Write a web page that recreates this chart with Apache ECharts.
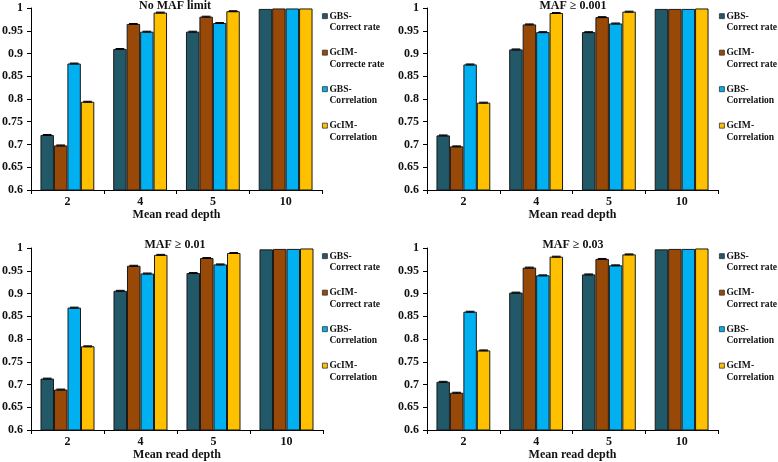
<!DOCTYPE html>
<html>
<head>
<meta charset="utf-8">
<script src="https://cdn.jsdelivr.net/npm/echarts@6/dist/echarts.min.js"></script>
<style>html,body{margin:0;padding:0;background:#fff;}#c{width:778px;height:462px;}</style>
</head>
<body>
<div id="c"></div>
<script>
const categories = ['2', '4', '5', '10'];
const panelTitles = ['No MAF limit', 'MAF \u2265 0.001', 'MAF \u2265 0.01', 'MAF \u2265 0.03'];
const namesFirst = ['GBS-\nCorrect rate', 'GcIM-\nCorrecte rate', 'GBS-\nCorrelation', 'GcIM-\nCorrelation'];
const namesOther = ['GBS-\nCorrect rate', 'GcIM-\nCorrect rate', 'GBS-\nCorrelation', 'GcIM-\nCorrelation'];
const yTicks = { min: 0.6, max: 1, interval: 0.05 };

// values per panel: [GBS-Correct rate, GcIM-Correct rate, GBS-Correlation, GcIM-Correlation]
const noMAF = [
  [0.721, 0.910, 0.948, 0.998],
  [0.698, 0.965, 0.981, 0.999],
  [0.878, 0.948, 0.967, 0.999],
  [0.794, 0.990, 0.993, 0.999]
];
const maf0001 = [
  [0.720, 0.909, 0.947, 0.998],
  [0.696, 0.964, 0.980, 0.998],
  [0.876, 0.947, 0.966, 0.998],
  [0.792, 0.989, 0.992, 0.999]
];
const maf001 = [
  [0.713, 0.906, 0.945, 0.997],
  [0.689, 0.961, 0.978, 0.998],
  [0.869, 0.944, 0.964, 0.998],
  [0.784, 0.985, 0.989, 0.999]
];
const maf003 = [
  [0.706, 0.902, 0.942, 0.997],
  [0.682, 0.957, 0.976, 0.998],
  [0.860, 0.940, 0.962, 0.998],
  [0.775, 0.981, 0.986, 0.999]
];
// error bar half-widths (same layout as values)
const errNoMAF = [
  [0.001, 0.001, 0.001, 0],
  [0.001, 0.001, 0.001, 0],
  [0.001, 0.001, 0.001, 0],
  [0.001, 0.001, 0.001, 0]
];
const errMaf0001 = [
  [0.001, 0.001, 0.001, 0],
  [0.001, 0.001, 0.001, 0],
  [0.001, 0.001, 0.001, 0],
  [0.001, 0.001, 0.001, 0]
];
const errMaf001 = [
  [0.001, 0.001, 0.001, 0],
  [0.001, 0.001, 0.001, 0],
  [0.001, 0.001, 0.001, 0],
  [0.001, 0.001, 0.001, 0]
];
const errMaf003 = [
  [0.001, 0.001, 0.001, 0],
  [0.001, 0.001, 0.001, 0],
  [0.001, 0.001, 0.001, 0],
  [0.001, 0.001, 0.001, 0]
];

const panels = [
  { title: panelTitles[0], names: namesFirst, values: noMAF, errs: errNoMAF },
  { title: panelTitles[1], names: namesOther, values: maf0001, errs: errMaf0001 },
  { title: panelTitles[2], names: namesOther, values: maf001, errs: errMaf001 },
  { title: panelTitles[3], names: namesOther, values: maf003, errs: errMaf003 }
];

const colors = ['#215968', '#984807', '#00B0F0', '#FFC000'];
const FONT = '"Liberation Serif", "Times New Roman", serif';
const CAT_GAP = 0.26;

const layout = [
  { left: 31, top: 8, width: 291, height: 182, titleX: 175, titleY: 0, legX: 322, legY: 10 },
  { left: 427, top: 8, width: 291, height: 182, titleX: 573, titleY: 0, legX: 719, legY: 10 },
  { left: 31, top: 248, width: 292, height: 182, titleX: 175, titleY: 239, legX: 322, legY: 250 },
  { left: 427, top: 248, width: 291, height: 182, titleX: 573, titleY: 239, legX: 719, legY: 250 }
];

function renderErr(params, api) {
  const cat = api.value(0), k = api.value(1), v = api.value(2), e = api.value(3);
  if (!e) return;
  const band = api.size([1, 0])[0];
  const bw = band * (1 - CAT_GAP) / 4;
  const c = api.coord([cat, v]);
  const x = c[0] + (k - 1.5) * bw;
  const yT = api.coord([cat, v + e])[1];
  const yB = api.coord([cat, v - e])[1];
  const hw = bw * 0.32;
  const st = { stroke: '#000', lineWidth: 1 };
  return {
    type: 'group',
    children: [
      { type: 'line', shape: { x1: x, y1: yT, x2: x, y2: yB }, style: st },
      { type: 'line', shape: { x1: x - hw, y1: yT, x2: x + hw, y2: yT }, style: st },
      { type: 'line', shape: { x1: x - hw, y1: yB, x2: x + hw, y2: yB }, style: st }
    ]
  };
}

const option = {
  animation: false,
  backgroundColor: '#fff',
  title: [], legend: [], grid: [], xAxis: [], yAxis: [], series: []
};

panels.forEach((p, i) => {
  const L = layout[i];
  option.grid.push({ left: L.left, top: L.top, width: L.width, height: L.height, containLabel: false, outerBoundsMode: 'none' });
  option.title.push({
    text: p.title, left: L.titleX, top: L.titleY, textAlign: 'center', padding: 0,
    textStyle: { fontFamily: FONT, fontWeight: 'bold', fontSize: 12, color: '#111' }
  });
  option.xAxis.push({
    type: 'category', gridIndex: i, data: categories,
    name: 'Mean read depth', nameLocation: 'middle', nameGap: 19,
    nameTextStyle: { fontFamily: FONT, fontWeight: 'bold', fontSize: 12, color: '#111' },
    axisLine: { show: true, lineStyle: { color: '#000', width: 1 } },
    axisTick: { show: true, length: 4, lineStyle: { color: '#000' } },
    axisLabel: { fontFamily: FONT, fontWeight: 'bold', fontSize: 12, color: '#111', margin: 6 },
    splitLine: { show: false }
  });
  option.yAxis.push({
    type: 'value', gridIndex: i, min: yTicks.min, max: yTicks.max, interval: yTicks.interval,
    axisLine: { show: true, lineStyle: { color: '#000', width: 1 } },
    axisTick: { show: true, length: 4, lineStyle: { color: '#000' } },
    axisLabel: { fontFamily: FONT, fontWeight: 'bold', fontSize: 12, color: '#111', margin: 8 },
    splitLine: { show: false }
  });
  p.names.forEach((nm, k) => {
    option.series.push({
      type: 'bar', name: nm, xAxisIndex: i, yAxisIndex: i,
      data: p.values[k],
      barGap: '0%', barCategoryGap: (CAT_GAP * 100) + '%',
      itemStyle: { color: colors[k], borderColor: '#1a1a1a', borderWidth: 1 }
    });
  });
  const errData = [];
  p.values.forEach((arr, k) => arr.forEach((v, c) => errData.push([c, k, v, p.errs[k][c]])));
  option.series.push({
    type: 'custom', xAxisIndex: i, yAxisIndex: i, z: 5,
    encode: { x: 0, y: 2 }, renderItem: renderErr, data: errData, silent: true
  });
  option.legend.push({
    orient: 'vertical', left: L.legX, top: L.legY, padding: 0,
    itemWidth: 5, itemHeight: 23, itemGap: 12.7,
    icon: 'path://M0,0M0,3.25H5V8.25H0Z M5,23',
    itemStyle: { borderColor: '#333', borderWidth: 0.8 },
    textStyle: { fontFamily: FONT, fontWeight: 'bold', fontSize: 9.6, lineHeight: 11.5, color: '#111', padding: [0, 0, 0, -3] },
    data: p.names.map(n => ({ name: n })),
    selectedMode: false
  });
});

const chart = echarts.init(document.getElementById('c'), null, { renderer: 'canvas' });
chart.setOption(option);
</script>
</body>
</html>
